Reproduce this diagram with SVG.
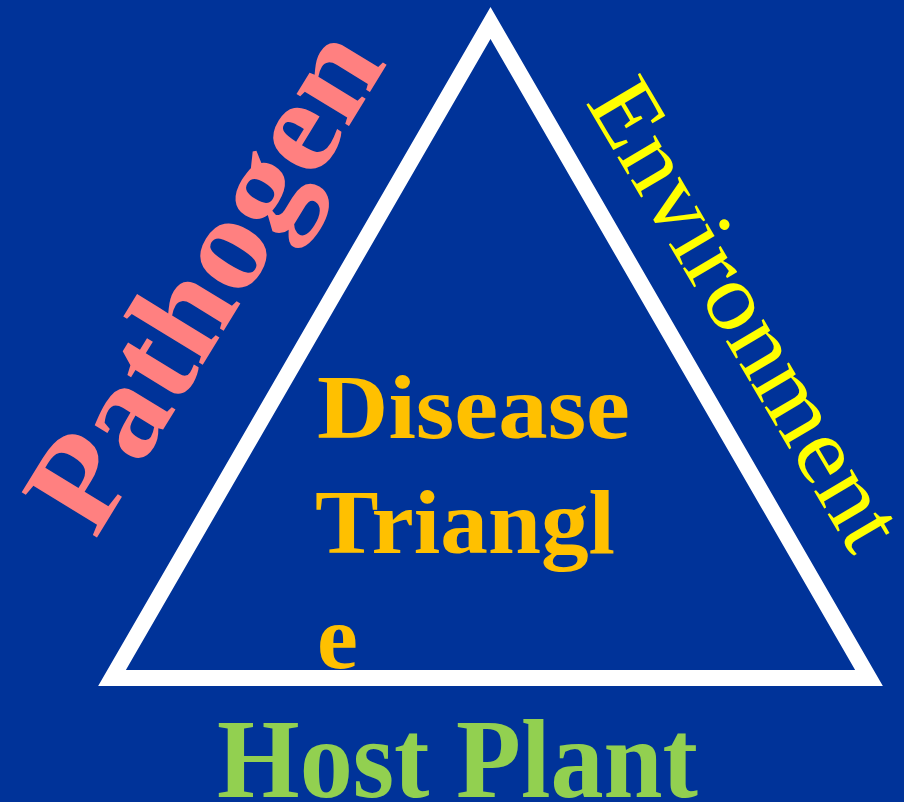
<svg xmlns="http://www.w3.org/2000/svg" width="904" height="802" viewBox="0 0 904 802">
<style>
.t{font-family:"Liberation Serif","Times New Roman",serif;}
.b{font-weight:bold;}
</style>
<rect x="0" y="0" width="904" height="802" fill="#003399"/>
<g id="pathogen">
<text class="t b" x="0" y="0" font-size="134" fill="#FF8080" text-anchor="middle" textLength="560" lengthAdjust="spacingAndGlyphs" transform="translate(241.5,301.5) rotate(-58.5)">Pathogen</text>
</g>
<g id="environment">
<text class="t" x="0" y="0" font-size="95" fill="#FFFF00" text-anchor="middle" textLength="528" lengthAdjust="spacingAndGlyphs" transform="translate(719,329.5) rotate(59.5)">Environment</text>
</g>
<g id="disease-triangle">
<text class="t b" x="317" y="438" font-size="92" fill="#FFC000" textLength="313" lengthAdjust="spacingAndGlyphs">Disease</text>
<text class="t b" x="315" y="553" font-size="92" fill="#FFC000" textLength="300" lengthAdjust="spacingAndGlyphs">Triangl</text>
<text class="t b" x="317" y="668" font-size="92" fill="#FFC000">e</text>
</g>
<g id="triangle">
<polygon points="490.5,23 112,678 869,678" fill="none" stroke="#FFFFFF" stroke-width="16" stroke-linejoin="miter" stroke-miterlimit="4"/>
</g>
<g id="host-plant">
<text class="t b" x="217" y="797" font-size="112" fill="#92D050" textLength="481" lengthAdjust="spacingAndGlyphs">Host Plant</text>
</g>
</svg>
